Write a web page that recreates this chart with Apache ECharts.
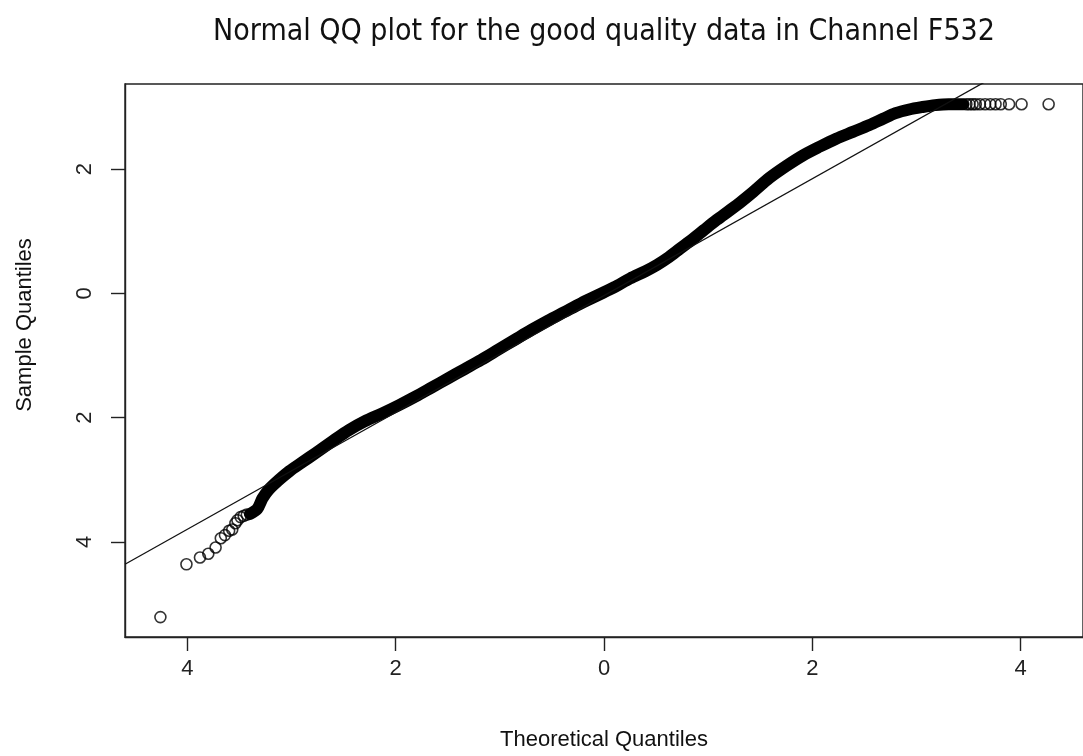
<!DOCTYPE html>
<html>
<head>
<meta charset="utf-8">
<script src="https://cdn.jsdelivr.net/npm/echarts@6/dist/echarts.min.js"></script>
<style>
html,body{margin:0;padding:0;background:#fff;}
#chart{width:1083px;height:756px;}
</style>
</head>
<body>
<div id="chart"></div>
<script>
// ---- data ----
const titleText = 'Normal QQ plot for the good quality data in Channel F532';
const xTitle = 'Theoretical Quantiles';
const yTitle = 'Sample Quantiles';
const xTicks = [-4, -2, 0, 2, 4];
const yTicks = [-4, -2, 0, 2];
const xRange = [-4.60, 4.60];
const yRange = [-5.53, 3.37];

// dense central band of the QQ points (theoretical, sample)
const bandPoints = [
  [-3.40,-3.55],[-3.33,-3.47],[-3.28,-3.30],[-3.22,-3.16],[-3.12,-3.00],[-3.02,-2.86],
  [-2.90,-2.72],[-2.77,-2.57],[-2.60,-2.37],[-2.45,-2.20],[-2.30,-2.06],[-2.13,-1.93],
  [-1.97,-1.80],[-1.81,-1.66],[-1.65,-1.51],[-1.50,-1.37],[-1.34,-1.22],[-1.18,-1.07],
  [-1.02,-0.91],[-0.86,-0.75],[-0.70,-0.59],[-0.54,-0.44],[-0.38,-0.30],[-0.22,-0.16],
  [-0.06,-0.03],[0.10,0.10],[0.25,0.24],[0.40,0.36],[0.51,0.46],[0.62,0.58],
  [0.73,0.72],[0.85,0.87],[0.96,1.02],[1.08,1.18],[1.21,1.34],[1.32,1.48],
  [1.43,1.63],[1.59,1.86],[1.75,2.05],[1.91,2.22],[2.07,2.36],[2.23,2.49],
  [2.39,2.60],[2.55,2.71],[2.68,2.81],[2.80,2.90],[2.93,2.96],[3.06,3.00],
  [3.18,3.03],[3.31,3.045],[3.45,3.045]
];
// sparse tail points drawn as individual circles
const lowerTail = [
  [-4.26,-5.21],[-4.01,-4.36],[-3.88,-4.25],[-3.80,-4.19],[-3.73,-4.09],[-3.68,-3.94],
  [-3.64,-3.89],[-3.60,-3.82],[-3.57,-3.80],[-3.54,-3.70],[-3.52,-3.65],[-3.49,-3.60],
  [-3.46,-3.58],[-3.43,-3.56]
];
const upperTail = [
  [3.48,3.045],[3.51,3.045],[3.54,3.045],[3.57,3.045],[3.61,3.045],[3.66,3.045],
  [3.71,3.045],[3.76,3.045],[3.81,3.045],[3.89,3.045],[4.01,3.045],[4.27,3.045]
];
// reference line (qqline) through the quartiles: intercept and slope
const qqIntercept = -0.035;
const qqSlope = 0.940;
const qqLine = xRange.map(x => [x, qqIntercept + qqSlope * x]);

const FONT = '"Liberation Sans", Arial, sans-serif';
const chart = echarts.init(document.getElementById('chart'), null, {renderer: 'canvas'});
chart.setOption({
  animation: false,
  backgroundColor: '#ffffff',
  title: {
    text: titleText,
    left: 599, top: 12, textAlign: 'center',
    textStyle: {fontFamily: '"Liberation Sans Narrow", "DejaVu Sans Condensed", "Noto Sans", sans-serif',
      fontSize: 30, fontWeight: 'normal', color: '#111'}
  },
  grid: {left: 125, top: 84, width: 963, height: 554, show: true,
    borderColor: '#222', borderWidth: 1.4, backgroundColor: 'transparent', containLabel: false},
  xAxis: {
    type: 'value', min: xRange[0], max: xRange[1],
    name: xTitle, nameLocation: 'middle', nameGap: 92,
    nameTextStyle: {fontFamily: FONT, fontSize: 22, color: '#111'},
    splitLine: {show: false},
    axisLine: {show: true, onZero: false, lineStyle: {color: '#222', width: 1.4}},
    axisTick: {show: true, length: 14, inside: false, customValues: xTicks, lineStyle: {color: '#222', width: 1.4}},
    axisLabel: {customValues: xTicks, margin: 21, fontFamily: FONT, fontSize: 22, color: '#222',
      formatter: v => String(Math.abs(v))}
  },
  yAxis: {
    type: 'value', min: yRange[0], max: yRange[1],
    splitLine: {show: false},
    axisLine: {show: true, onZero: false, lineStyle: {color: '#222', width: 1.4}},
    axisTick: {show: true, length: 14, inside: false, customValues: yTicks, lineStyle: {color: '#222', width: 1.4}},
    axisLabel: {customValues: yTicks, margin: 29, rotate: 90, fontFamily: FONT, fontSize: 22, color: '#222',
      formatter: v => String(Math.abs(v))}
  },
  graphic: [{
    type: 'text', x: 25, y: 325, rotation: Math.PI / 2,
    style: {text: yTitle, fontFamily: FONT, fontSize: 22, fill: '#111', align: 'center', verticalAlign: 'middle'}
  }],
  series: [
    {type: 'line', data: qqLine, showSymbol: false, symbol: 'none', clip: true,
      lineStyle: {color: '#111', width: 1.3}, z: 3},
    {type: 'line', data: bandPoints, showSymbol: false, symbol: 'none', smooth: 0.3, clip: true,
      lineStyle: {color: '#000', width: 12, cap: 'round', join: 'round'}, z: 2},
    {type: 'scatter', data: lowerTail.concat(upperTail), symbol: 'circle', symbolSize: 11, clip: true,
      itemStyle: {color: 'rgba(0,0,0,0)', borderColor: '#000', borderWidth: 1.6}, z: 4}
  ]
});
</script>
</body>
</html>
